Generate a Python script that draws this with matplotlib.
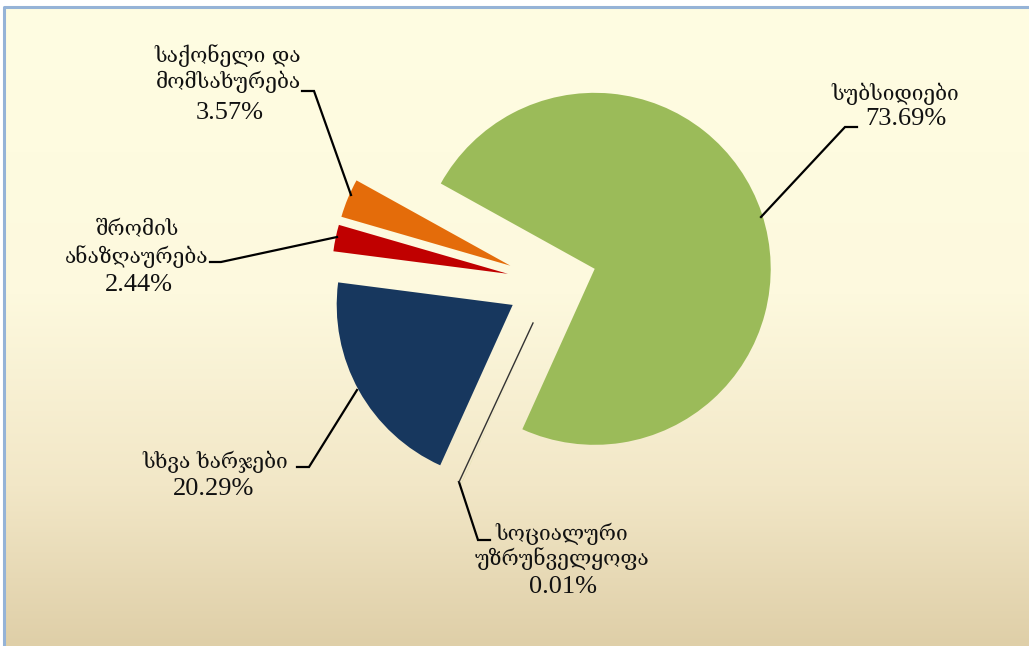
import numpy as np
import matplotlib
matplotlib.use("Agg")
import matplotlib.pyplot as plt
from matplotlib.colors import LinearSegmentedColormap

# ---- data ----
categories = [["სუბსიდიები"], ["სოციალური", "უზრუნველყოფა"], ["სხვა ხარჯები"],
              ["შრომის", "ანაზღაურება"], ["საქონელი და", "მომსახურება"]]
values = [73.69, 0.01, 20.29, 2.44, 3.57]
pct_labels = ["73.69%", "0.01%", "20.29%", "2.44%", "3.57%"]
colors = ["#9BBB59", "#9BBB59", "#17375E", "#C00000", "#E46C0A"]

W, H = 1029, 646
fig = plt.figure(figsize=(W / 100, H / 100), dpi=100)
ax = fig.add_axes([0, 0, 1, 1])

def Y(y):
    return H - y

# background gradient
cmap = LinearSegmentedColormap.from_list(
    "bg", [(0.0, "#FFFDE2"), (0.45, "#FDF9DE"), (0.75, "#F2E7C7"), (1.0, "#DFCFA8")])
grad = np.linspace(0, 1, 256).reshape(-1, 1)
ax.imshow(grad, cmap=cmap, extent=[4, W, Y(H), Y(7)], aspect="auto", zorder=0)

# pie
wedges, _ = ax.pie(values, colors=colors, startangle=151, counterclock=False,
                   explode=[45] * len(values), radius=176, center=(552, Y(283)),
                   frame=True, wedgeprops=dict(linewidth=0))
ax.set_xlim(0, W)
ax.set_ylim(0, H)
ax.axis("off")
for w in wedges:
    w.set_zorder(2)

# frame
ax.plot([4, 4, W], [Y(H), Y(7), Y(7)], color="#95B3D7", lw=2.2, zorder=1,
        solid_capstyle="butt")

geo_font = dict(family=["DejaVu Serif"], fontsize=15, color="#111111")
pct_font = dict(family=["Liberation Serif", "DejaVu Serif"], fontsize=19, color="#111111")

# label layout (pixel coordinates, y from top): category line baselines, pct baseline
cat_x = [895, 562, 215, 137, 228]
cat_baselines = [[100], [540, 565], [468], [235, 263], [62, 88]]
pct_xy = [(906, 125), (563, 593), (214, 495), (139, 291), (230, 119)]
leaders = [
    [(857, 127), (845, 127), (761, 217)],
    [(459, 482), (478, 540), (490, 540)],
    [(297, 467), (309, 467), (357, 390)],
    [(210, 262), (221, 262), (337, 237)],
    [(302, 91), (314, 91), (351, 195)],
]

for lines, pct, cx, bls, (px, py), pts in zip(categories, pct_labels, cat_x,
                                              cat_baselines, pct_xy, leaders):
    for line, bl in zip(lines, bls):
        ax.text(cx, Y(bl), line, ha="center", va="baseline", zorder=4, **geo_font)
    ax.text(px, Y(py), pct, ha="center", va="baseline", zorder=4, **pct_font)
    ax.plot([p[0] for p in pts], [Y(p[1]) for p in pts], color="black", lw=1.6,
            zorder=3, solid_joinstyle="miter")

# thin first segment of the social-security leader
ax.plot([533, 459], [Y(323), Y(482)], color="#333333", lw=1.0, zorder=3)

fig.savefig("out.png", dpi=100, facecolor="white")
